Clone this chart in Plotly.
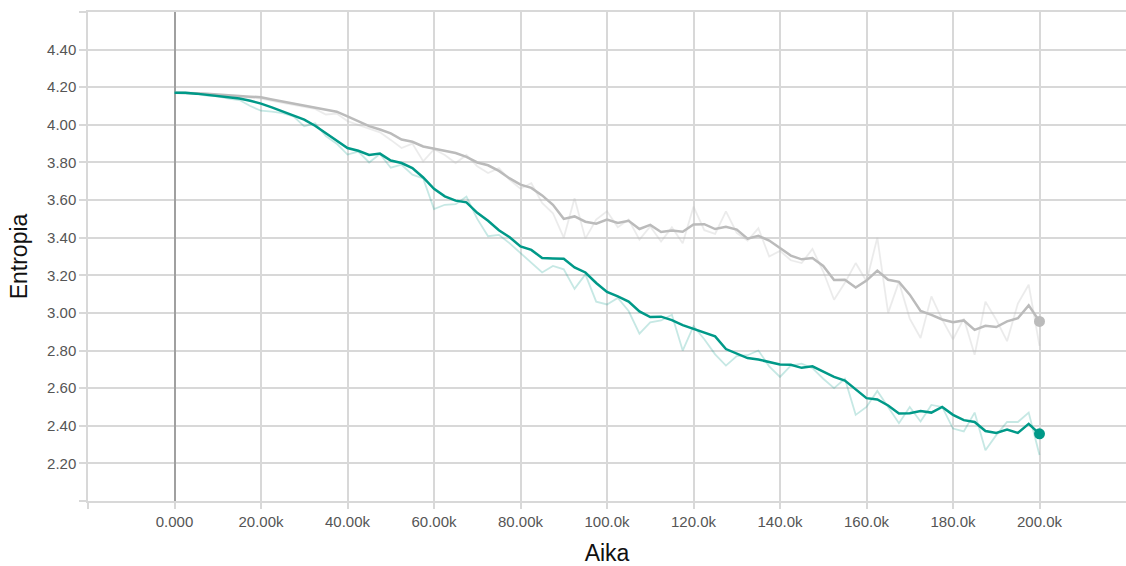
import plotly.graph_objects as go

# ---- data ----
steps = [i * 2500 for i in range(81)]

teal_smooth = [4.170, 4.170, 4.166, 4.160, 4.155, 4.148, 4.140, 4.128, 4.113, 4.093,
               4.072, 4.052, 4.028, 3.995, 3.957, 3.915, 3.877, 3.862, 3.840, 3.847,
               3.810, 3.797, 3.770, 3.720, 3.660, 3.620, 3.597, 3.588, 3.532, 3.490,
               3.440, 3.402, 3.354, 3.335, 3.292, 3.290, 3.288, 3.242, 3.215, 3.159,
               3.112, 3.088, 3.060, 3.008, 2.978, 2.980, 2.962, 2.935, 2.915, 2.895,
               2.875, 2.808, 2.782, 2.760, 2.752, 2.740, 2.726, 2.724, 2.708, 2.716,
               2.690, 2.660, 2.640, 2.595, 2.547, 2.540, 2.508, 2.465, 2.467, 2.478,
               2.470, 2.500, 2.458, 2.430, 2.420, 2.372, 2.362, 2.380, 2.362, 2.410,
               2.357]

teal_raw = [4.170, 4.168, 4.163, 4.155, 4.152, 4.140, 4.132, 4.100, 4.075, 4.070,
            4.062, 4.045, 3.992, 4.008, 3.940, 3.900, 3.842, 3.858, 3.800, 3.845,
            3.772, 3.788, 3.735, 3.715, 3.552, 3.575, 3.578, 3.618, 3.500, 3.408,
            3.415, 3.370, 3.318, 3.262, 3.215, 3.250, 3.232, 3.128, 3.205, 3.060,
            3.045, 3.080, 3.010, 2.890, 2.950, 2.960, 2.990, 2.800, 2.930, 2.860,
            2.780, 2.720, 2.770, 2.775, 2.800, 2.716, 2.660, 2.720, 2.730, 2.706,
            2.650, 2.600, 2.650, 2.458, 2.500, 2.585, 2.500, 2.414, 2.500, 2.423,
            2.511, 2.500, 2.385, 2.370, 2.470, 2.270, 2.350, 2.420, 2.420, 2.470,
            2.245]

gray_smooth = [4.170, 4.170, 4.168, 4.165, 4.160, 4.157, 4.154, 4.150, 4.147, 4.135,
               4.124, 4.112, 4.103, 4.093, 4.082, 4.070, 4.045, 4.020, 3.993, 3.975,
               3.955, 3.922, 3.910, 3.885, 3.872, 3.862, 3.850, 3.830, 3.800, 3.785,
               3.755, 3.715, 3.682, 3.665, 3.625, 3.575, 3.500, 3.513, 3.485, 3.474,
               3.496, 3.478, 3.490, 3.446, 3.468, 3.430, 3.438, 3.432, 3.470, 3.472,
               3.446, 3.458, 3.443, 3.395, 3.410, 3.385, 3.345, 3.305, 3.285, 3.292,
               3.250, 3.175, 3.176, 3.135, 3.172, 3.225, 3.176, 3.165, 3.097, 3.010,
               2.990, 2.965, 2.950, 2.960, 2.910, 2.932, 2.925, 2.955, 2.972, 3.040,
               2.955]

gray_raw = [4.170, 4.170, 4.167, 4.163, 4.158, 4.154, 4.150, 4.145, 4.140, 4.128,
            4.118, 4.105, 4.095, 4.085, 4.055, 4.060, 4.020, 4.000, 3.983, 3.960,
            3.920, 3.877, 3.900, 3.806, 3.870, 3.840, 3.797, 3.840, 3.780, 3.744,
            3.770, 3.708, 3.660, 3.690, 3.585, 3.530, 3.400, 3.610, 3.395, 3.496,
            3.540, 3.455, 3.496, 3.390, 3.460, 3.380, 3.455, 3.370, 3.565, 3.440,
            3.420, 3.540, 3.425, 3.385, 3.450, 3.300, 3.330, 3.280, 3.265, 3.340,
            3.220, 3.070, 3.160, 3.265, 3.168, 3.400, 3.000, 3.165, 2.970, 2.867,
            3.088, 2.964, 2.860, 2.970, 2.777, 3.060, 2.964, 2.850, 3.050, 3.150,
            2.825]

x_tickvals = [-20000, 0, 20000, 40000, 60000, 80000, 100000, 120000, 140000, 160000, 180000, 200000]
x_ticktext = ["", "0.000", "20.00k", "40.00k", "60.00k", "80.00k", "100.0k", "120.0k",
              "140.0k", "160.0k", "180.0k", "200.0k"]
y_tickvals = [2.0, 2.2, 2.4, 2.6, 2.8, 3.0, 3.2, 3.4, 3.6, 3.8, 4.0, 4.2, 4.4, 4.6]
y_ticktext = ["", "2.20", "2.40", "2.60", "2.80", "3.00", "3.20", "3.40", "3.60",
              "3.80", "4.00", "4.20", "4.40", ""]

TEAL = "#009988"
GRAY = "#bbbbbb"
GRID = "#d8d8d8"

fig = go.Figure()
fig.add_trace(go.Scatter(x=steps, y=gray_raw, mode="lines",
                         line=dict(color=GRAY, width=1.8), opacity=0.28, hoverinfo="skip"))
fig.add_trace(go.Scatter(x=steps, y=teal_raw, mode="lines",
                         line=dict(color=TEAL, width=1.8), opacity=0.22, hoverinfo="skip"))
fig.add_trace(go.Scatter(x=steps, y=gray_smooth, mode="lines",
                         line=dict(color=GRAY, width=2.5)))
fig.add_trace(go.Scatter(x=steps, y=teal_smooth, mode="lines",
                         line=dict(color=TEAL, width=2.5)))
fig.add_trace(go.Scatter(x=[steps[-1]], y=[gray_smooth[-1]], mode="markers",
                         marker=dict(color=GRAY, size=11)))
fig.add_trace(go.Scatter(x=[steps[-1]], y=[teal_smooth[-1]], mode="markers",
                         marker=dict(color=TEAL, size=11)))

font_family = "Liberation Sans, Arial, sans-serif"
fig.update_layout(
    width=1126, height=566,
    margin=dict(l=88, r=0, t=12, b=65),
    paper_bgcolor="white", plot_bgcolor="white",
    showlegend=False,
    font=dict(family=font_family, color="#555555", size=15),
    xaxis=dict(range=[-20000, 220000], tickvals=x_tickvals, ticktext=x_ticktext,
               showgrid=True, gridcolor=GRID, gridwidth=1.5,
               zeroline=True, zerolinecolor="#a0a0a0", zerolinewidth=2,
               ticks="outside", ticklen=6, tickcolor=GRID, tickwidth=1.5,
               showline=True, mirror=True, linecolor=GRID, linewidth=1.5,
               tickfont=dict(size=15, color="#555555"),
               title=dict(text="Aika", font=dict(size=23, color="#111111"), standoff=19)),
    yaxis=dict(range=[2.0, 4.6], tickvals=y_tickvals, ticktext=y_ticktext,
               showgrid=True, gridcolor=GRID, gridwidth=1.5,
               zeroline=False, showline=True, linecolor=GRID, linewidth=1.5,
               ticks="outside", ticklen=7, tickcolor=GRID, tickwidth=1.5,
               tickfont=dict(size=15, color="#555555"),
               title=dict(text="Entropia", font=dict(size=23, color="#111111"), standoff=13)),
)

fig.write_html("out.html")
